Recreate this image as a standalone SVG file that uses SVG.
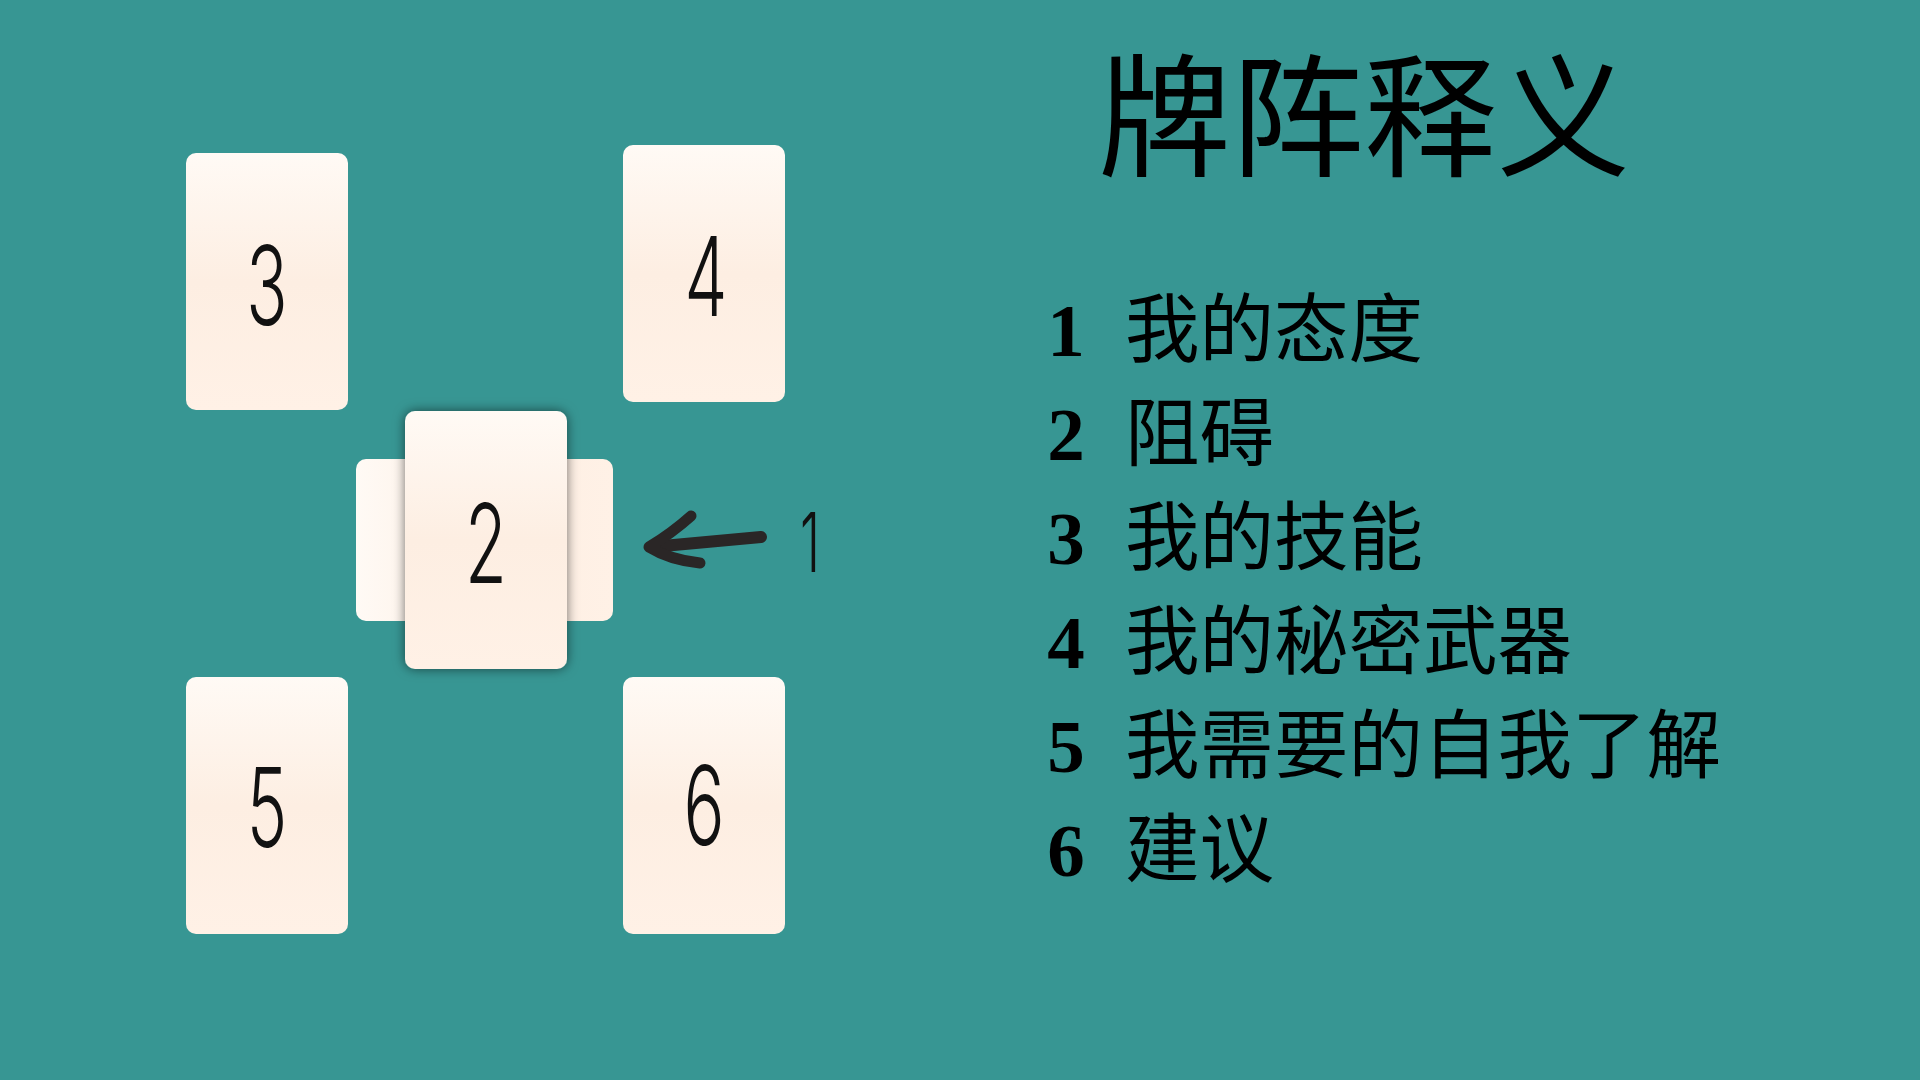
<svg xmlns="http://www.w3.org/2000/svg" width="1920" height="1080" viewBox="0 0 1920 1080">
  <style>
    .card { fill: url(#cardV); }
    .num { font-family: Inter, "DejaVu Sans", sans-serif; font-weight: 300; font-size: 110px; fill: #111; text-anchor: middle; }
    .title { font-family: "Noto Sans CJK SC", sans-serif; font-size: 133px; fill: #000; text-anchor: middle; }
    .ln { font-family: "Liberation Serif", serif; font-weight: bold; font-size: 75px; fill: #000; text-anchor: middle; }
    .lt { font-family: "Noto Sans CJK SC", sans-serif; font-size: 74.5px; fill: #000; }
    .arrow { fill: none; stroke: #2a2626; stroke-width: 11; stroke-linecap: round; stroke-linejoin: round; }
  </style>
  <defs>
    <linearGradient id="cardV" x1="0" y1="0" x2="0" y2="1">
      <stop offset="0" stop-color="#fffaf5"/>
      <stop offset="0.5" stop-color="#fdeee2"/>
      <stop offset="1" stop-color="#fff1e6"/>
    </linearGradient>
    <linearGradient id="cardH" x1="0" y1="0" x2="1" y2="0">
      <stop offset="0" stop-color="#fffaf5"/>
      <stop offset="0.5" stop-color="#fdeee2"/>
      <stop offset="1" stop-color="#fff1e6"/>
    </linearGradient>
    <filter id="shadow" x="-20%" y="-20%" width="140%" height="140%">
      <feDropShadow dx="0" dy="0" stdDeviation="6" flood-color="#000" flood-opacity="0.55"/>
    </filter>
  </defs>
  <rect width="1920" height="1080" fill="#379693"/>

  <g id="card3">
    <rect class="card" x="186" y="153" width="162" height="257" rx="10"/>
    <g transform="translate(267 325) scale(0.62 1)"><text class="num" x="0" y="0">3</text></g>
  </g>
  <g id="card4">
    <rect class="card" x="623" y="145" width="162" height="257" rx="10"/>
    <g transform="translate(706 316) scale(0.62 1)"><text class="num" x="0" y="0">4</text></g>
  </g>
  <g id="card1">
    <rect x="356" y="459" width="257" height="162" rx="10" fill="url(#cardH)"/>
  </g>
  <g id="card2">
    <rect class="card" x="405" y="411" width="162" height="258" rx="10" filter="url(#shadow)"/>
    <g transform="translate(486 583) scale(0.62 1)"><text class="num" x="0" y="0">2</text></g>
  </g>
  <g id="card5">
    <rect class="card" x="186" y="677" width="162" height="257" rx="10"/>
    <g transform="translate(267 847) scale(0.62 1)"><text class="num" x="0" y="0">5</text></g>
  </g>
  <g id="card6">
    <rect class="card" x="623" y="677" width="162" height="257" rx="10"/>
    <g transform="translate(704 845) scale(0.62 1)"><text class="num" x="0" y="0">6</text></g>
  </g>

  <g id="connectors">
    <path class="arrow" d="M761 537 L652 547" style="stroke-width:12"/>
    <path class="arrow" d="M691 516 Q672 533 649 547 Q670 560 700 563"/>
  </g>
  <g id="label1">
    <g transform="translate(810 572) scale(0.62 1)"><text class="num" x="0" y="0" style="font-size:82px">1</text></g>
  </g>

  <g id="title">
    <text class="title" x="1364" y="166">牌阵释义</text>
  </g>
  <g id="legend">
    <text class="ln" x="1066" y="356">1</text><text class="lt" x="1125" y="356">我的态度</text>
    <text class="ln" x="1066" y="460">2</text><text class="lt" x="1125" y="460">阻碍</text>
    <text class="ln" x="1066" y="564">3</text><text class="lt" x="1125" y="564">我的技能</text>
    <text class="ln" x="1066" y="668">4</text><text class="lt" x="1125" y="668">我的秘密武器</text>
    <text class="ln" x="1066" y="772">5</text><text class="lt" x="1125" y="772">我需要的自我了解</text>
    <text class="ln" x="1066" y="876">6</text><text class="lt" x="1125" y="876">建议</text>
  </g>
</svg>
